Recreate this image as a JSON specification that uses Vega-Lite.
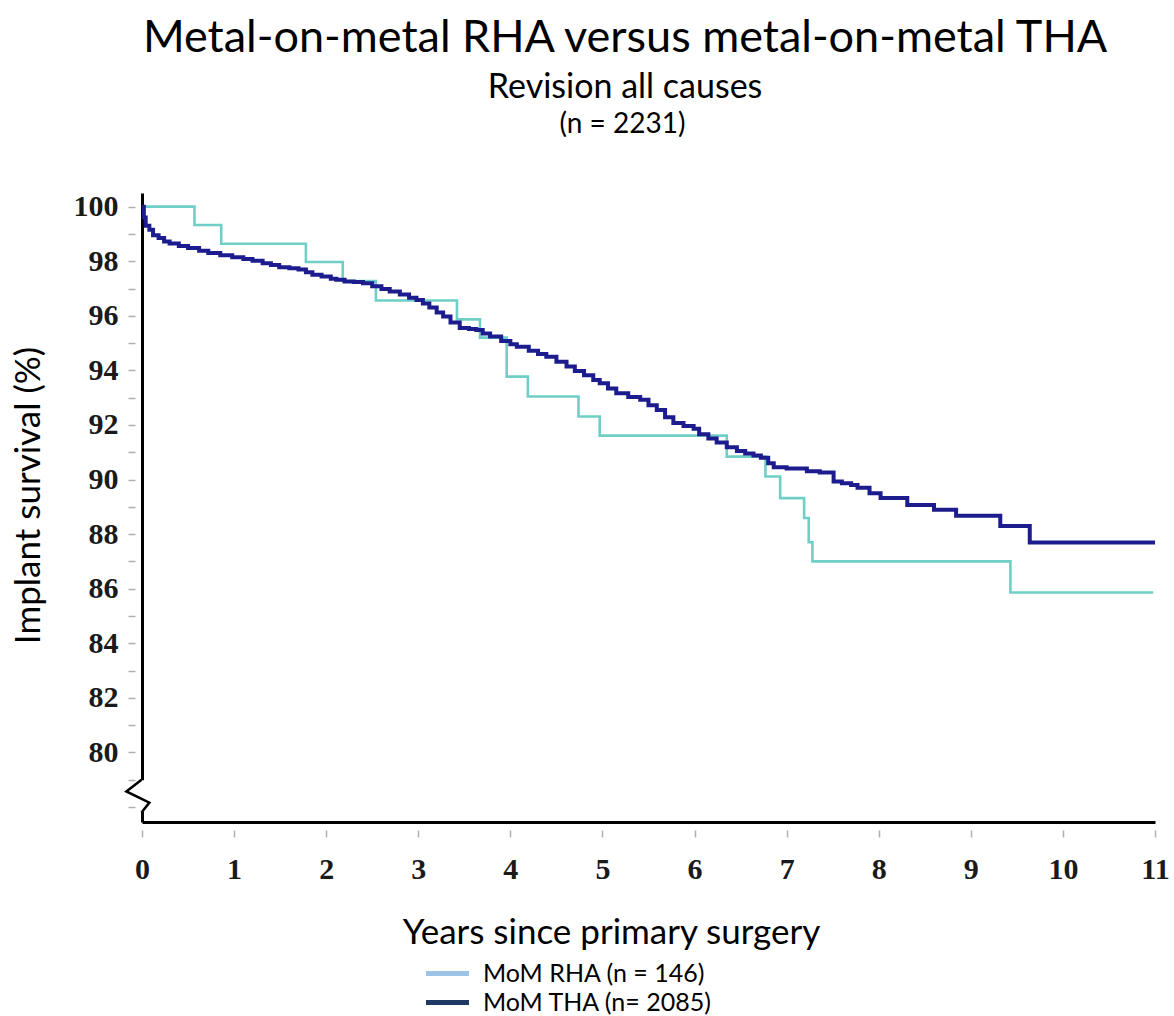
{
  "$schema": "https://vega.github.io/schema/vega-lite/v6.json",
  "autosize": {"type": "pad"},
  "padding": {"left": 11, "top": 15, "right": 10, "bottom": 10},
  "background": "white",
  "config": {"view": {"stroke": null}, "font": "Lato"},
  "title": {
    "text": "Metal-on-metal RHA versus metal-on-metal THA",
    "subtitle": "Revision all causes",
    "font": "Lato",
    "fontSize": 45,
    "fontWeight": "normal",
    "color": "black",
    "subtitleFont": "Lato",
    "subtitleFontSize": 34,
    "subtitleColor": "black",
    "subtitlePadding": 10,
    "anchor": "middle",
    "dx": 35,
    "offset": 6
  },
  "datasets": {
    "curves": [
      {"series": "MoM RHA (n = 146)", "t": 0, "s": 100},
      {"series": "MoM RHA (n = 146)", "t": 0.57, "s": 99.33},
      {"series": "MoM RHA (n = 146)", "t": 0.86, "s": 98.64},
      {"series": "MoM RHA (n = 146)", "t": 1.78, "s": 97.97},
      {"series": "MoM RHA (n = 146)", "t": 2.18, "s": 97.27},
      {"series": "MoM RHA (n = 146)", "t": 2.54, "s": 96.56},
      {"series": "MoM RHA (n = 146)", "t": 3.42, "s": 95.87},
      {"series": "MoM RHA (n = 146)", "t": 3.67, "s": 95.2},
      {"series": "MoM RHA (n = 146)", "t": 3.96, "s": 93.77},
      {"series": "MoM RHA (n = 146)", "t": 4.19, "s": 93.04},
      {"series": "MoM RHA (n = 146)", "t": 4.74, "s": 92.31},
      {"series": "MoM RHA (n = 146)", "t": 4.97, "s": 91.61},
      {"series": "MoM RHA (n = 146)", "t": 6.35, "s": 90.84},
      {"series": "MoM RHA (n = 146)", "t": 6.77, "s": 90.11},
      {"series": "MoM RHA (n = 146)", "t": 6.93, "s": 89.32},
      {"series": "MoM RHA (n = 146)", "t": 7.19, "s": 88.59},
      {"series": "MoM RHA (n = 146)", "t": 7.24, "s": 87.7},
      {"series": "MoM RHA (n = 146)", "t": 7.28, "s": 87.0},
      {"series": "MoM RHA (n = 146)", "t": 9.43, "s": 85.86},
      {"series": "MoM RHA (n = 146)", "t": 10.98, "s": 85.86},
      {"series": "MoM THA (n= 2085)", "t": 0, "s": 100},
      {"series": "MoM THA (n= 2085)", "t": 0.02, "s": 99.6},
      {"series": "MoM THA (n= 2085)", "t": 0.04, "s": 99.3},
      {"series": "MoM THA (n= 2085)", "t": 0.08, "s": 99.15},
      {"series": "MoM THA (n= 2085)", "t": 0.12, "s": 98.95},
      {"series": "MoM THA (n= 2085)", "t": 0.18, "s": 98.85},
      {"series": "MoM THA (n= 2085)", "t": 0.24, "s": 98.72},
      {"series": "MoM THA (n= 2085)", "t": 0.3, "s": 98.65},
      {"series": "MoM THA (n= 2085)", "t": 0.4, "s": 98.56},
      {"series": "MoM THA (n= 2085)", "t": 0.5, "s": 98.48},
      {"series": "MoM THA (n= 2085)", "t": 0.62, "s": 98.38},
      {"series": "MoM THA (n= 2085)", "t": 0.72, "s": 98.3},
      {"series": "MoM THA (n= 2085)", "t": 0.85, "s": 98.22},
      {"series": "MoM THA (n= 2085)", "t": 0.98, "s": 98.15},
      {"series": "MoM THA (n= 2085)", "t": 1.1, "s": 98.08},
      {"series": "MoM THA (n= 2085)", "t": 1.2, "s": 98.02},
      {"series": "MoM THA (n= 2085)", "t": 1.31, "s": 97.93},
      {"series": "MoM THA (n= 2085)", "t": 1.4, "s": 97.86},
      {"series": "MoM THA (n= 2085)", "t": 1.49, "s": 97.78},
      {"series": "MoM THA (n= 2085)", "t": 1.6, "s": 97.74},
      {"series": "MoM THA (n= 2085)", "t": 1.7, "s": 97.7},
      {"series": "MoM THA (n= 2085)", "t": 1.78, "s": 97.6},
      {"series": "MoM THA (n= 2085)", "t": 1.85, "s": 97.5},
      {"series": "MoM THA (n= 2085)", "t": 1.95, "s": 97.44},
      {"series": "MoM THA (n= 2085)", "t": 2.05, "s": 97.36},
      {"series": "MoM THA (n= 2085)", "t": 2.11, "s": 97.32},
      {"series": "MoM THA (n= 2085)", "t": 2.2, "s": 97.26},
      {"series": "MoM THA (n= 2085)", "t": 2.3, "s": 97.24},
      {"series": "MoM THA (n= 2085)", "t": 2.4, "s": 97.19},
      {"series": "MoM THA (n= 2085)", "t": 2.5, "s": 97.08},
      {"series": "MoM THA (n= 2085)", "t": 2.6, "s": 96.98},
      {"series": "MoM THA (n= 2085)", "t": 2.69, "s": 96.89},
      {"series": "MoM THA (n= 2085)", "t": 2.8, "s": 96.78},
      {"series": "MoM THA (n= 2085)", "t": 2.9, "s": 96.66},
      {"series": "MoM THA (n= 2085)", "t": 2.98, "s": 96.58},
      {"series": "MoM THA (n= 2085)", "t": 3.05, "s": 96.45},
      {"series": "MoM THA (n= 2085)", "t": 3.12, "s": 96.3},
      {"series": "MoM THA (n= 2085)", "t": 3.2, "s": 96.12},
      {"series": "MoM THA (n= 2085)", "t": 3.27, "s": 95.97},
      {"series": "MoM THA (n= 2085)", "t": 3.35, "s": 95.75},
      {"series": "MoM THA (n= 2085)", "t": 3.45, "s": 95.55},
      {"series": "MoM THA (n= 2085)", "t": 3.55, "s": 95.52},
      {"series": "MoM THA (n= 2085)", "t": 3.63, "s": 95.48},
      {"series": "MoM THA (n= 2085)", "t": 3.7, "s": 95.35},
      {"series": "MoM THA (n= 2085)", "t": 3.78, "s": 95.24},
      {"series": "MoM THA (n= 2085)", "t": 3.9, "s": 95.08},
      {"series": "MoM THA (n= 2085)", "t": 4.0, "s": 94.96},
      {"series": "MoM THA (n= 2085)", "t": 4.07, "s": 94.87},
      {"series": "MoM THA (n= 2085)", "t": 4.2, "s": 94.72},
      {"series": "MoM THA (n= 2085)", "t": 4.3, "s": 94.6},
      {"series": "MoM THA (n= 2085)", "t": 4.39, "s": 94.5},
      {"series": "MoM THA (n= 2085)", "t": 4.5, "s": 94.32},
      {"series": "MoM THA (n= 2085)", "t": 4.61, "s": 94.14},
      {"series": "MoM THA (n= 2085)", "t": 4.7, "s": 93.98},
      {"series": "MoM THA (n= 2085)", "t": 4.8, "s": 93.82},
      {"series": "MoM THA (n= 2085)", "t": 4.9, "s": 93.65},
      {"series": "MoM THA (n= 2085)", "t": 4.97, "s": 93.53},
      {"series": "MoM THA (n= 2085)", "t": 5.06, "s": 93.34},
      {"series": "MoM THA (n= 2085)", "t": 5.15, "s": 93.16},
      {"series": "MoM THA (n= 2085)", "t": 5.28, "s": 93.02},
      {"series": "MoM THA (n= 2085)", "t": 5.41, "s": 92.92},
      {"series": "MoM THA (n= 2085)", "t": 5.5, "s": 92.72},
      {"series": "MoM THA (n= 2085)", "t": 5.59, "s": 92.55},
      {"series": "MoM THA (n= 2085)", "t": 5.68, "s": 92.28},
      {"series": "MoM THA (n= 2085)", "t": 5.77, "s": 92.07},
      {"series": "MoM THA (n= 2085)", "t": 5.88, "s": 91.96},
      {"series": "MoM THA (n= 2085)", "t": 5.99, "s": 91.86},
      {"series": "MoM THA (n= 2085)", "t": 6.05, "s": 91.66},
      {"series": "MoM THA (n= 2085)", "t": 6.15, "s": 91.5},
      {"series": "MoM THA (n= 2085)", "t": 6.24, "s": 91.36},
      {"series": "MoM THA (n= 2085)", "t": 6.35, "s": 91.18},
      {"series": "MoM THA (n= 2085)", "t": 6.46, "s": 91.05},
      {"series": "MoM THA (n= 2085)", "t": 6.55, "s": 90.95},
      {"series": "MoM THA (n= 2085)", "t": 6.64, "s": 90.88},
      {"series": "MoM THA (n= 2085)", "t": 6.72, "s": 90.8},
      {"series": "MoM THA (n= 2085)", "t": 6.8, "s": 90.6},
      {"series": "MoM THA (n= 2085)", "t": 6.86, "s": 90.45},
      {"series": "MoM THA (n= 2085)", "t": 7.0, "s": 90.4},
      {"series": "MoM THA (n= 2085)", "t": 7.22, "s": 90.3},
      {"series": "MoM THA (n= 2085)", "t": 7.36, "s": 90.26},
      {"series": "MoM THA (n= 2085)", "t": 7.51, "s": 89.93},
      {"series": "MoM THA (n= 2085)", "t": 7.6, "s": 89.86},
      {"series": "MoM THA (n= 2085)", "t": 7.7, "s": 89.8},
      {"series": "MoM THA (n= 2085)", "t": 7.77, "s": 89.7},
      {"series": "MoM THA (n= 2085)", "t": 7.9, "s": 89.5},
      {"series": "MoM THA (n= 2085)", "t": 8.02, "s": 89.32},
      {"series": "MoM THA (n= 2085)", "t": 8.31, "s": 89.07},
      {"series": "MoM THA (n= 2085)", "t": 8.6, "s": 88.89},
      {"series": "MoM THA (n= 2085)", "t": 8.84, "s": 88.67},
      {"series": "MoM THA (n= 2085)", "t": 9.32, "s": 88.3},
      {"series": "MoM THA (n= 2085)", "t": 9.64, "s": 87.69},
      {"series": "MoM THA (n= 2085)", "t": 11.0, "s": 87.69}
    ],
    "axisBreak": [
      {"k": 1, "t": -0.005, "s": 79.0},
      {"k": 2, "t": -0.17, "s": 78.57},
      {"k": 3, "t": 0.08, "s": 78.16},
      {"k": 4, "t": -0.005, "s": 77.8}
    ],
    "axisGap": [
      {"t": 0, "s": 78.98, "s2": 77.82}
    ]
  },
  "vconcat": [
    {
      "width": 1013,
      "height": 629,
      "title": {
        "text": "(n = 2231)",
        "font": "Lato",
        "fontSize": 28,
        "fontWeight": "normal",
        "color": "black",
        "anchor": "middle",
        "frame": "group",
        "dx": -26,
        "offset": 53
      },
      "encoding": {
        "x": {
          "field": "t",
          "type": "quantitative",
          "scale": {"domain": [0, 11], "nice": false, "zero": false},
          "axis": {
            "values": [0, 1, 2, 3, 4, 5, 6, 7, 8, 9, 10, 11],
            "title": "Years since primary surgery",
            "grid": false,
            "domainColor": "black",
            "domainWidth": 3,
            "tickColor": "#b0b0b0",
            "tickSize": 15,
            "tickWidth": 1.5,
            "tickDash": [0, 8, 7, 50],
            "labelFont": "Liberation Serif",
            "labelFontWeight": "bold",
            "labelFontSize": 30,
            "labelColor": "#1a1a1a",
            "labelPadding": 17,
            "labelFlush": false,
            "labelOverlap": false,
            "titleFont": "Lato",
            "titleFontSize": 35,
            "titleFontWeight": "normal",
            "titleColor": "black",
            "titleX": 469,
            "titleY": 110,
            "titleBaseline": "middle",
            "titleAlign": "center"
          }
        },
        "y": {
          "field": "s",
          "type": "quantitative",
          "scale": {"domain": [77.45, 100.5], "nice": false, "zero": false},
          "axis": {
            "values": [78, 79, 80, 81, 82, 83, 84, 85, 86, 87, 88, 89, 90, 91, 92, 93, 94, 95, 96, 97, 98, 99, 100],
            "labelExpr": "datum.value >= 80 && datum.value % 2 == 0 ? datum.label : ''",
            "title": "Implant survival (%)",
            "grid": false,
            "domainColor": "black",
            "domainWidth": 3,
            "tickColor": "#b0b0b0",
            "tickSize": 14,
            "tickWidth": 1.5,
            "tickDash": [0, 7, 7, 50],
            "labelFont": "Liberation Serif",
            "labelFontWeight": "bold",
            "labelFontSize": 30,
            "labelColor": "#1a1a1a",
            "labelPadding": 10,
            "labelOverlap": false,
            "titleFont": "Lato",
            "titleFontSize": 35,
            "titleFontWeight": "normal",
            "titleColor": "black",
            "titleAngle": 270,
            "titleX": -114,
            "titleY": 302,
            "titleBaseline": "middle",
            "titleAlign": "center"
          }
        }
      },
      "layer": [
        {
          "data": {"name": "curves"},
          "transform": [{"filter": "datum.series === 'MoM RHA (n = 146)'"}],
          "mark": {"type": "line", "interpolate": "step-after", "color": "#6fcfc6", "strokeWidth": 2.6}
        },
        {
          "data": {"name": "curves"},
          "transform": [{"filter": "datum.series === 'MoM THA (n= 2085)'"}],
          "mark": {"type": "line", "interpolate": "step-after", "color": "#1c1c8e", "strokeWidth": 4}
        },
        {
          "data": {"name": "curves"},
          "mark": {"type": "line", "opacity": 0},
          "encoding": {
            "color": {
              "field": "series",
              "type": "nominal",
              "scale": {"domain": ["MoM RHA (n = 146)", "MoM THA (n= 2085)"], "range": ["#9dc3e6", "#1f3864"]},
              "legend": {
                "title": null,
                "orient": "none",
                "legendX": 281,
                "legendY": 769,
                "symbolType": "stroke",
                "symbolSize": 1850,
                "symbolStrokeWidth": 5,
                "symbolOpacity": 1,
                "clipHeight": 23,
                "labelFont": "Lato",
                "labelFontSize": 25,
                "labelColor": "black",
                "labelOffset": 11,
                "labelLimit": 0,
                "rowPadding": 3
              }
            }
          }
        },
        {
          "data": {"name": "axisGap"},
          "mark": {"type": "rule", "color": "white", "strokeWidth": 5},
          "encoding": {"y2": {"field": "s2"}}
        },
        {
          "data": {"name": "axisBreak"},
          "mark": {"type": "line", "color": "black", "strokeWidth": 2.5},
          "encoding": {"order": {"field": "k", "type": "quantitative"}}
        }
      ]
    }
  ]
}
